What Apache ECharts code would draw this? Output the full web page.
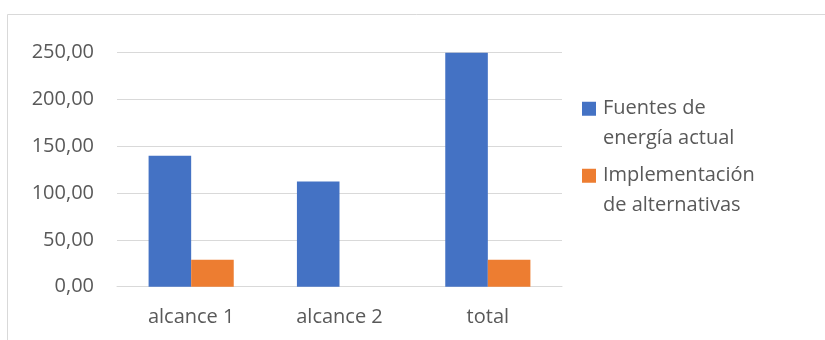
<!DOCTYPE html>
<html>
<head>
<meta charset="utf-8">
<script src="https://cdn.jsdelivr.net/npm/echarts@6/dist/echarts.min.js"></script>
<style>
  html, body { margin: 0; padding: 0; background: #ffffff; }
  #chart { width: 825px; height: 340px; }
</style>
</head>
<body>
<div id="chart"></div>
<script>
// Categories, series values and axis ticks
const categories = ['alcance 1', 'alcance 2', 'total'];
const seriesNames = ['Fuentes de\nenergía actual', 'Implementación\nde alternativas'];
const fuentesActual = [139.8, 112.4, 251.4];
const alternativas = [28.8, null, 28.8];
const yTicks = { min: 0, max: 250, interval: 50 };

const FONT = '"Open Sans", "Noto Sans", sans-serif';
const TEXT = '#595959';
const LINE_H = 29.5;

const chart = echarts.init(document.getElementById('chart'), null, { renderer: 'canvas' });

chart.setOption({
  animation: false,
  backgroundColor: '#ffffff',
  graphic: [{
    type: 'rect',
    silent: true,
    shape: { x: 7.5, y: 14.5, width: 900, height: 400 },
    style: { fill: 'none', stroke: '#d9d9d9', lineWidth: 1 }
  }],
  grid: { left: 117, right: 263, top: 52.7, bottom: 53.3, containLabel: false },
  legend: {
    orient: 'vertical',
    left: 577,
    top: 59.5,
    itemWidth: 14,
    itemHeight: 14,
    itemGap: -21.5,
    icon: 'rect',
    selectedMode: false,
    // an empty leading line keeps the swatch level with the first text line
    formatter: name => '\n' + name,
    textStyle: {
      fontFamily: FONT,
      fontSize: 20,
      color: TEXT,
      lineHeight: LINE_H,
      padding: [0, 0, 0, 2]
    },
    data: seriesNames
  },
  xAxis: {
    type: 'category',
    data: categories,
    axisLine: { show: true, lineStyle: { color: '#d9d9d9', width: 1 } },
    axisTick: { show: false },
    axisLabel: { fontFamily: FONT, fontSize: 20, color: TEXT, margin: 21 }
  },
  yAxis: {
    type: 'value',
    min: yTicks.min,
    max: yTicks.max,
    interval: yTicks.interval,
    axisLine: { show: false },
    axisTick: { show: false },
    splitLine: { lineStyle: { color: '#d9d9d9', width: 1 } },
    axisLabel: {
      fontFamily: FONT, fontSize: 20, color: TEXT, margin: 23,
      formatter: v => v.toFixed(2).replace('.', ',')
    }
  },
  series: [
    {
      name: seriesNames[0],
      type: 'bar',
      data: fuentesActual,
      barWidth: '28.7%',
      barGap: '0%',
      itemStyle: { color: '#4472c4' }
    },
    {
      name: seriesNames[1],
      type: 'bar',
      data: alternativas,
      barWidth: '28.7%',
      barGap: '0%',
      itemStyle: { color: '#ed7d31' }
    }
  ]
});
</script>
</body>
</html>
